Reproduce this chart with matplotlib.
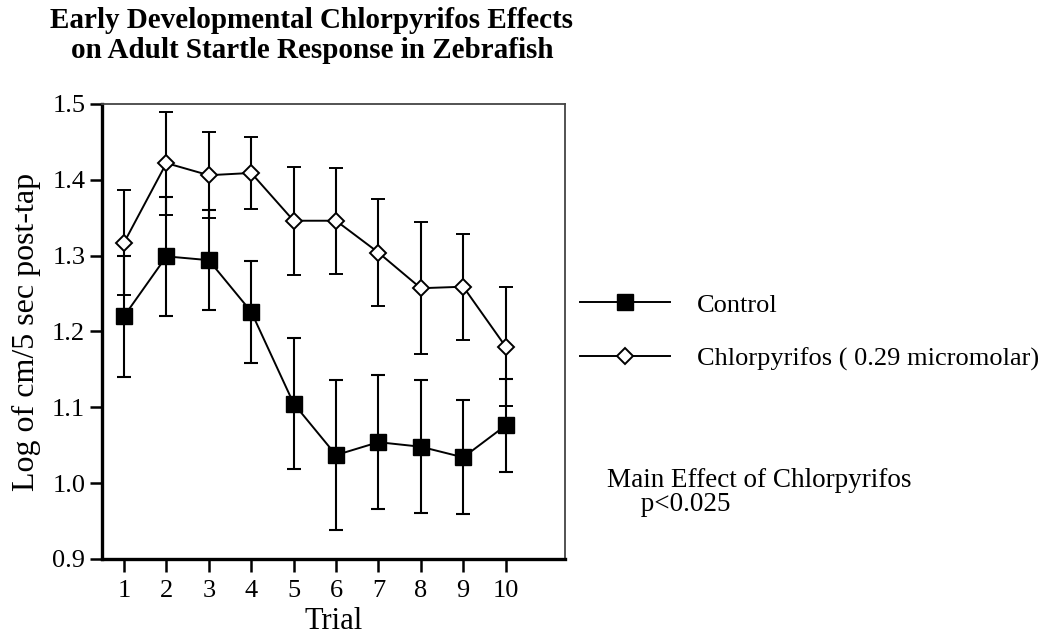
import numpy as np
import matplotlib
matplotlib.use("Agg")
import matplotlib.pyplot as plt

plt.rcParams['font.family'] = ['Liberation Serif', 'DejaVu Serif']

trials = [1, 2, 3, 4, 5, 6, 7, 8, 9, 10]
control_mean = [1.220, 1.299, 1.294, 1.226, 1.105, 1.037, 1.054, 1.048, 1.034, 1.076]
control_err = [0.080, 0.078, 0.066, 0.067, 0.087, 0.099, 0.088, 0.088, 0.075, 0.061]
cpf_mean = [1.317, 1.422, 1.406, 1.409, 1.346, 1.346, 1.304, 1.257, 1.259, 1.180]
cpf_err = [0.069, 0.068, 0.057, 0.048, 0.071, 0.070, 0.071, 0.087, 0.070, 0.078]

fig = plt.figure(figsize=(10.5, 6.4), dpi=100)
ax = fig.add_axes([0.0971, 0.1266, 0.441, 0.711])

ax.errorbar(trials, control_mean, yerr=control_err, color='black', lw=1.4,
            marker='s', ms=11, mfc='black', mec='black', capsize=5,
            elinewidth=1.5, capthick=1.5, label='Control', zorder=3)
ax.errorbar(trials, cpf_mean, yerr=cpf_err, color='black', lw=1.4,
            marker='D', ms=8.5, mfc='white', mec='black', mew=1.4, capsize=5,
            elinewidth=1.5, capthick=1.5,
            label='Chlorpyrifos ( 0.29 micromolar)', zorder=4)

ax.set_xlim(0.48, 11.4)
ax.set_ylim(0.9, 1.5)
ax.set_xticks(trials)
ax.set_yticks([0.9, 1.0, 1.1, 1.2, 1.3, 1.4, 1.5])
ax.set_yticklabels(['0.9', '1.0', '1.1', '1.2', '1.3', '1.4', '1.5'])
ax.tick_params(labelsize=19, length=9, width=1.8, direction='out')
ax.tick_params(axis='y', pad=3)
ax.tick_params(axis='x', pad=6)
for s in ['left', 'bottom']:
    ax.spines[s].set_linewidth(2.4)
for s in ['top', 'right']:
    ax.spines[s].set_linewidth(1.3)
    ax.spines[s].set_color('#444444')

ax.set_xlabel('Trial', fontsize=22, labelpad=4)
ax.set_ylabel('Log of cm/5 sec post-tap', fontsize=23, labelpad=8)

fig.text(0.297, 0.989, 'Early Developmental Chlorpyrifos Effects\non Adult Startle Response in Zebrafish',
         ha='center', va='top', fontsize=21, fontweight='bold', linespacing=1.13)

handles, labels = ax.get_legend_handles_labels()
handles = [h[0] for h in handles]
fig.legend(handles, labels, loc='upper left', bbox_to_anchor=(0.530, 0.579),
           frameon=False, fontsize=19, handlelength=3.4, handletextpad=1.02,
           labelspacing=1.15)

fig.text(0.578, 0.2305, 'Main Effect of Chlorpyrifos\n     p<0.025', ha='left', va='center',
         fontsize=19.5, linespacing=0.95)

fig.savefig('out.png', dpi=100)
